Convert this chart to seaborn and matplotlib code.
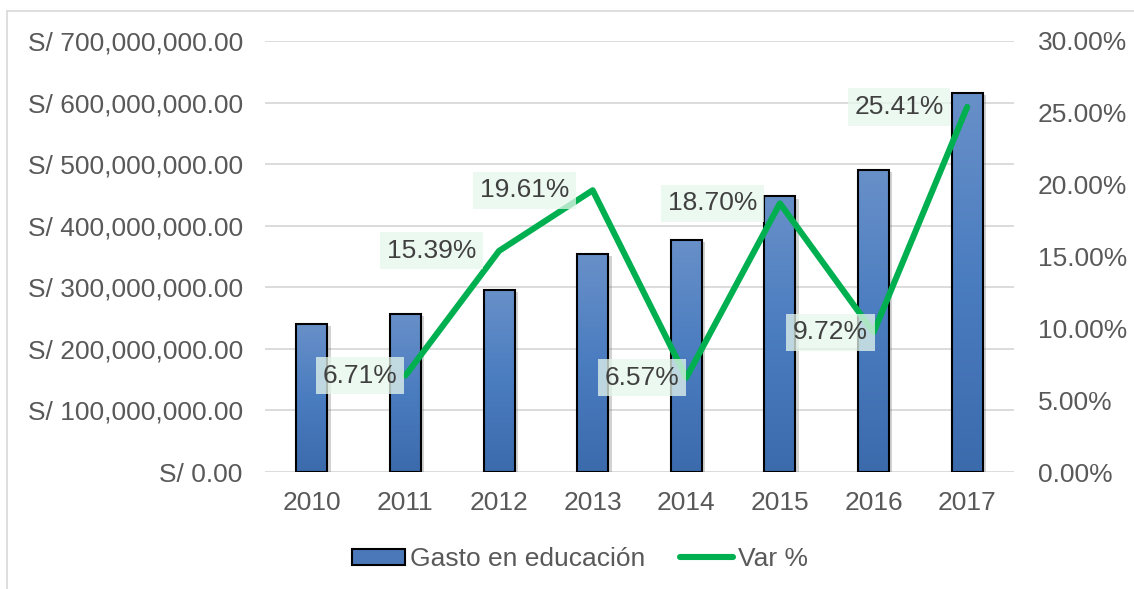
import numpy as np
import pandas as pd
import matplotlib
matplotlib.use('Agg')
import matplotlib.pyplot as plt
import seaborn as sns
import matplotlib.patheffects as pe
from matplotlib.patches import Patch, Rectangle
from matplotlib.lines import Line2D
from matplotlib.ticker import FuncFormatter, MultipleLocator
from matplotlib.colors import LinearSegmentedColormap

# data
years = ['2010', '2011', '2012', '2013', '2014', '2015', '2016', '2017']
gasto = [240.2e6, 256.3e6, 295.8e6, 353.8e6, 377.0e6, 447.5e6, 491.0e6, 615.5e6]
var_years = ['2011', '2012', '2013', '2014', '2015', '2016', '2017']
var_pct = [6.71, 15.39, 19.61, 6.57, 18.70, 9.72, 25.41]

# horizontal offset of each data label (points, left of the marker)
label_dx = [-6, -16.5, -17, -5, -16.5, -4, -17]

TXT = '#595959'
GREEN = '#00B050'
FS = 19

sns.set_theme(style='white')
plt.rcParams['font.family'] = ['Liberation Sans', 'DejaVu Sans']

W, H = 1134, 589
fig = plt.figure(figsize=(W / 100, H / 100), dpi=100)
ax = fig.add_axes([265 / W, 1 - 472 / H, (1014 - 265) / W, (472 - 41) / H])

df = pd.DataFrame({'anio': years, 'gasto': gasto})
sns.barplot(data=df, x='anio', y='gasto', ax=ax, width=0.33, color='#4A78B8',
            saturation=1, edgecolor='none', linewidth=0, zorder=2)

# gradient fill + black edge + soft shadow for each bar
cmap = LinearSegmentedColormap.from_list('bar', ['#3C6BAC', '#4A7CC0', '#6890C8'])
grad = np.linspace(0, 1, 256).reshape(-1, 1)
for p in list(ax.patches):
    x0, w, h = p.get_x(), p.get_width(), p.get_height()
    p.set_path_effects([pe.SimplePatchShadow(offset=(2.5, -1.5), shadow_rgbFace='#7F7F7F', alpha=0.35),
                        pe.Normal()])
    im = ax.imshow(grad, extent=[x0, x0 + w, 0, h], origin='lower', cmap=cmap,
                   aspect='auto', zorder=2.2)
    im.set_clip_path(p)
    ax.add_patch(Rectangle((x0, 0), w, h, fill=False, edgecolor='black', lw=1.5, zorder=2.4))

ax.set_xlim(-0.5, len(years) - 0.5)
ax.set_ylim(0, 700e6)
ax.yaxis.set_major_locator(MultipleLocator(100e6))
ax.yaxis.set_major_formatter(FuncFormatter(lambda v, _: f'S/ {v:,.2f}'))
ax.yaxis.grid(True, color='#D9D9D9', lw=1.3)
ax.set_axisbelow(True)
ax.set_xlabel('')
ax.set_ylabel('')
for s in ax.spines.values():
    s.set_visible(False)
ax.tick_params(axis='y', length=0, pad=16, labelsize=FS, labelcolor=TXT)
ax.tick_params(axis='x', length=0, pad=14, labelsize=FS, labelcolor=TXT)

# variation line on the secondary axis
ax2 = ax.twinx()
xpos = [years.index(y) for y in var_years]
sns.lineplot(x=xpos, y=np.array(var_pct) / 100, ax=ax2, color=GREEN, lw=4.4,
             solid_capstyle='round', solid_joinstyle='round', zorder=3)
ax2.set_xlim(-0.5, len(years) - 0.5)
ax2.set_ylim(0, 0.30)
ax2.yaxis.set_major_locator(MultipleLocator(0.05))
ax2.yaxis.set_major_formatter(FuncFormatter(lambda v, _: f'{v * 100:.2f}%'))
ax2.set_ylabel('')
ax2.grid(False)
for s in ax2.spines.values():
    s.set_visible(False)
ax2.tick_params(axis='y', length=0, pad=17, labelsize=FS, labelcolor=TXT)

for xi, v, dx in zip(xpos, var_pct, label_dx):
    ax2.annotate(f'{v:.2f}%', xy=(xi, v / 100), xytext=(dx, 0), textcoords='offset points',
                 ha='right', va='center', fontsize=FS, color='#404040', zorder=5,
                 bbox=dict(boxstyle='square,pad=0.25', fc='#E6F7EC', ec='none', alpha=0.75))

handles = [Patch(facecolor='#4A78B8', edgecolor='black', lw=1.5, label='Gasto en educación'),
           Line2D([], [], color=GREEN, lw=4.4, solid_capstyle='round', label='Var %')]
fig.legend(handles=handles, loc='center', bbox_to_anchor=(580 / W, 1 - 559 / H), ncol=2,
           frameon=False, fontsize=FS, labelcolor=TXT, handlelength=2.0, handleheight=0.55,
           handletextpad=0.2, columnspacing=1.3)

# chart area border (top and left visible in the crop)
fig.add_artist(Line2D([7 / W, 1], [1 - 11 / H, 1 - 11 / H], transform=fig.transFigure,
                      color='#D9D9D9', lw=1.2))
fig.add_artist(Line2D([7 / W, 7 / W], [0, 1 - 11 / H], transform=fig.transFigure,
                      color='#D9D9D9', lw=1.2))

fig.savefig('out.png', dpi=100)
